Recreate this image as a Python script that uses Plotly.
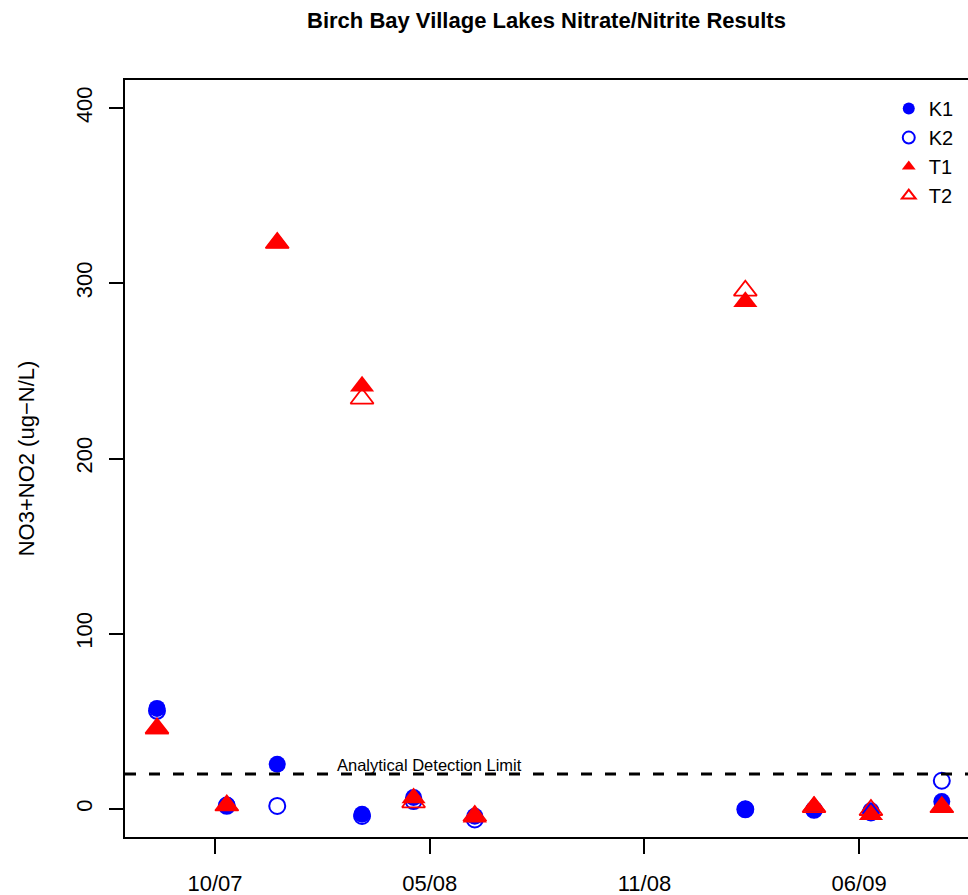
import plotly.graph_objects as go

# Sampling dates and NO3+NO2 concentrations (ug-N/L) per station
sample_dates = [
    "2007-08-21", "2007-10-25", "2007-12-11", "2008-02-28", "2008-04-16",
    "2008-06-12", "2009-02-19", "2009-04-24", "2009-06-16", "2009-08-21",
]
k1 = [57.4, 2.3, 25.5, -3.0, 6.5, -4.2, -0.2, -0.5, -1.0, 4.2]
k2 = [56.0, 1.8, 1.7, -4.0, 4.5, -6.0, -0.2, -0.5, -2.0, 16.1]
t1 = [45.6, 1.9, 323.0, 241.2, 6.3, -4.7, 289.5, 1.6, -3.3, 0.7]
t2 = [46.0, 2.0, 323.0, 234.2, 3.8, -4.0, 295.8, 1.0, -0.6, 1.0]

detection_limit = 20
detection_label = "Analytical Detection Limit"
detection_label_date = "2008-05-01"
detection_label_y = 25

tick_dates = ["2007-10-14", "2008-05-01", "2008-11-17", "2009-06-05"]
tick_text = ["10/07", "05/08", "11/08", "06/09"]
y_ticks = [0, 100, 200, 300, 400]

FONT = "Liberation Sans, Arial, Helvetica, sans-serif"
BLUE = "#0000FF"
RED = "#FF0000"

series = [
    ("K1", k1, dict(symbol="circle", size=17, color=BLUE, line=dict(width=0))),
    ("K2", k2, dict(symbol="circle-open", size=16, color=BLUE, line=dict(width=2, color=BLUE))),
    ("T1", t1, dict(symbol="triangle-up", size=21, color=RED, line=dict(width=0))),
    ("T2", t2, dict(symbol="triangle-up-open", size=20, color=RED, line=dict(width=1.8, color=RED))),
]

fig = go.Figure()
for name, vals, marker in series:
    fig.add_trace(go.Scatter(
        x=sample_dates, y=vals, name=name, mode="markers",
        marker=marker, cliponaxis=False,
    ))

# Detection limit reference line across the plotting region
fig.add_shape(
    type="line", xref="paper", x0=0, x1=1, yref="y",
    y0=detection_limit, y1=detection_limit,
    line=dict(color="black", width=3, dash="11px,13px"),
)
fig.add_annotation(
    x=detection_label_date, y=detection_label_y, text=detection_label,
    showarrow=False, xanchor="center", yanchor="middle",
    font=dict(family=FONT, size=16.5, color="black"),
)

fig.update_layout(
    width=968, height=895,
    margin=dict(l=125, r=0, t=80, b=58, autoexpand=False),
    paper_bgcolor="white", plot_bgcolor="white",
    font=dict(family=FONT, size=22, color="black"),
    title=dict(
        text="<b>Birch Bay Village Lakes Nitrate/Nitrite Results</b>",
        x=0.5, xref="paper", xanchor="center",
        y=1 - 20 / 895, yref="container", yanchor="middle",
        font=dict(family=FONT, size=22, color="black"),
    ),
    showlegend=True,
    legend=dict(
        x=0.906, y=0.988, xanchor="left", yanchor="top",
        bgcolor="rgba(0,0,0,0)", borderwidth=0,
        itemsizing="constant", tracegroupgap=0,
        font=dict(family=FONT, size=20, color="black"),
    ),
)

fig.update_xaxes(
    type="date", automargin=False,
    range=["2007-07-22 04:48", "2009-09-14 09:36"],
    tickvals=tick_dates, ticktext=tick_text,
    ticks="outside", ticklen=15, tickwidth=1.5, tickcolor="black",
    ticklabelstandoff=11,
    showline=True, linecolor="black", linewidth=1.5, mirror=True,
    showgrid=False, zeroline=False,
    tickfont=dict(family=FONT, size=22, color="black"),
)
fig.update_yaxes(
    automargin=False,
    range=[-16, 416],
    tickvals=y_ticks,
    tickangle=-90,
    ticks="outside", ticklen=14, tickwidth=1.5, tickcolor="black",
    ticklabelstandoff=8,
    showline=True, linecolor="black", linewidth=1.5,
    showgrid=False, zeroline=False,
    tickfont=dict(family=FONT, size=22, color="black"),
    title=dict(text="NO3+NO2 (ug\u2212N/L)", standoff=32,
               font=dict(family=FONT, size=22, color="black")),
)

fig.write_html("out.html")
